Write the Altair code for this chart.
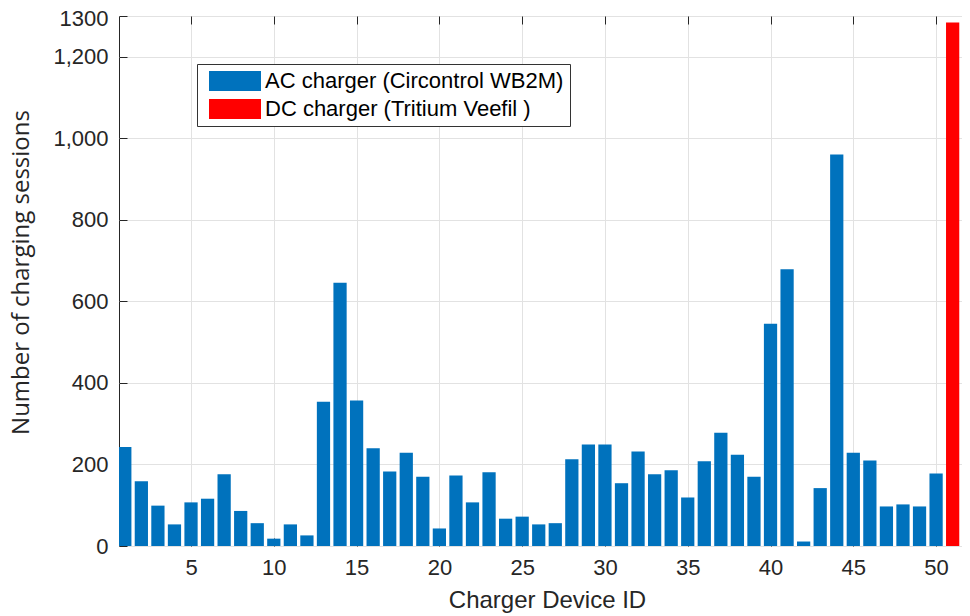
import altair as alt
import pandas as pd

device_ids = list(range(1, 53))
sessions = [243, 159, 99, 53, 107, 116, 176, 86, 56, 18,
            53, 26, 354, 646, 357, 240, 183, 229, 170, 43,
            173, 107, 181, 67, 72, 53, 56, 213, 249, 249,
            154, 232, 176, 186, 119, 208, 278, 224, 170, 545,
            679, 11, 142, 960, 229, 210, 97, 102, 97, 178,
            1284, 1236]
type_names = ["AC charger (Circontrol WB2M)", "DC charger (Tritium Veefil )"]
charger_types = [type_names[0]] * 50 + [type_names[1]] * 2
type_colors = ["#0072BD", "#FF0000"]
x_ticks = [5, 10, 15, 20, 25, 30, 35, 40, 45, 50]
y_ticks = [0, 200, 400, 600, 800, 1000, 1200, 1300]

df = pd.DataFrame({"id": device_ids, "sessions": sessions, "type": charger_types})

x_domain = [0.65, 52.35]
y_domain = [0, 1300]

base = alt.Chart(df).transform_calculate(
    left="datum.id - 0.4", right="datum.id + 0.4"
)

bars = base.mark_bar(clip=True).encode(
    x=alt.X("left:Q", scale=alt.Scale(domain=x_domain, nice=False, zero=False),
            axis=alt.Axis(values=x_ticks, orient="bottom", title="Charger Device ID",
                          offset=-8, tickSize=8, domain=False, grid=True,
                          labelPadding=11, titlePadding=10,
                          labelFont="Liberation Sans", labelFontSize=22,
                          titleFont="Liberation Sans", titleFontSize=24)),
    x2="right:Q",
    y=alt.Y("sessions:Q", scale=alt.Scale(domain=y_domain, nice=False),
            axis=alt.Axis(values=y_ticks, orient="left", title="Number of charging sessions",
                          labelExpr="datum.value == 1300 ? '1300' : format(datum.value, ',')",
                          labelOffset={"condition": {"test": "datum.value == 1300", "value": 2},
                                       "value": 0},
                          offset=-8, tickSize=8, domain=False, grid=True,
                          labelPadding=11, titlePadding=19, titleY=256,
                          labelFont="Liberation Sans", labelFontSize=22,
                          titleFont="Open Sans", titleFontSize=24)),
    y2=alt.datum(0),
    color=alt.Color("type:N",
                    scale=alt.Scale(domain=type_names, range=type_colors),
                    legend=alt.Legend(title=None, orient="none", legendX=78, legendY=48,
                                      symbolType="M-0.5,-1H4.7V1H-0.5Z", symbolSize=400,
                                      symbolStrokeWidth=0, symbolOpacity=1,
                                      labelFont="Liberation Sans", labelFontSize=22,
                                      labelColor="#000000", labelOffset=40, labelLimit=0,
                                      rowPadding=6, padding=6,
                                      strokeColor="#333333", fillColor="#ffffff")),
)

top_ticks = base.mark_rule(opacity=0).encode(
    x=alt.X("id:Q", scale=alt.Scale(domain=x_domain, nice=False, zero=False),
            axis=alt.Axis(values=x_ticks, orient="top", title=None, labels=False,
                          offset=-8, tickSize=8, domain=False, grid=False, zindex=2)),
)

chart = alt.layer(bars, top_ticks).resolve_scale(x="independent").properties(
    width=856, height=530,
    autosize=alt.AutoSizeParams(type="none"),
    padding={"left": 111, "top": 8, "right": -13, "bottom": 70},
).configure_view(
    stroke="#262626", strokeWidth=1
).configure_axis(
    tickColor="#262626", tickWidth=1, labelColor="#262626", titleColor="#262626",
    gridColor="#e2e2e2", gridWidth=1, titleFontWeight="normal"
)

chart.save("out.html", embed_options={"renderer": "svg", "actions": False})
